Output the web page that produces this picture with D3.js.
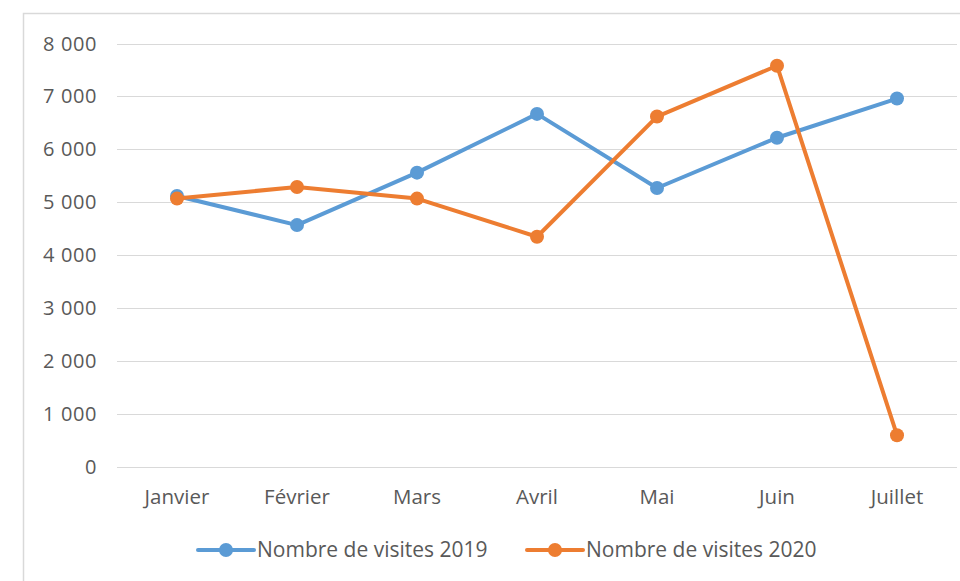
<!DOCTYPE html>
<html>
<head>
<meta charset="utf-8">
<script src="https://cdn.jsdelivr.net/npm/d3@7"></script>
<style>
  body { margin: 0; background: #fff; }
  text { font-family: "Open Sans", Lato, sans-serif; fill: #595959; }
</style>
</head>
<body>
<div id="viz"></div>
<script>
// months and visits
var months = ['Janvier', 'Février', 'Mars', 'Avril', 'Mai', 'Juin', 'Juillet'];
var visits2019 = [5120, 4570, 5560, 6670, 5270, 6220, 6960];
var visits2020 = [5070, 5290, 5070, 4350, 6620, 7580, 600];
var yTicks = [0, 1000, 2000, 3000, 4000, 5000, 6000, 7000, 8000];
var seriesNames = ['Nombre de visites 2019', 'Nombre de visites 2020'];
var seriesColors = ['#5B9BD5', '#ED7D31'];

var width = 960, height = 581;
var margin = ({top: 43.5, right: 3, bottom: 114, left: 117});

var svg = d3.select('#viz')
  .append('svg')
  .attr('width', width)
  .attr('height', height);

// outer chart border (cropped at right/bottom)
svg.append('rect')
  .attr('x', 23.5).attr('y', 13.5)
  .attr('width', 960).attr('height', 600)
  .attr('fill', 'none')
  .attr('stroke', '#d9d9d9')
  .attr('stroke-width', 1.5);

var x = d3.scalePoint()
  .domain(months)
  .range([margin.left, width - margin.right])
  .padding(0.5);

var y = d3.scaleLinear()
  .domain([0, 8000])
  .range([height - margin.bottom, margin.top]);

var fmt = function(d) { return d3.format(',')(d).replace(',', ' '); };

// gridlines
svg.append('g')
  .selectAll('line')
  .data(yTicks)
  .join('line')
  .attr('x1', margin.left)
  .attr('x2', width - margin.right)
  .attr('y1', d => Math.round(y(d)) + 0.5)
  .attr('y2', d => Math.round(y(d)) + 0.5)
  .attr('stroke', '#d9d9d9')
  .attr('stroke-width', 1);

// y labels
svg.append('g')
  .selectAll('text')
  .data(yTicks)
  .join('text')
  .attr('x', 97)
  .attr('y', d => y(d))
  .attr('dy', '0.35em')
  .attr('text-anchor', 'end')
  .style('font-size', '20px')
  .style('letter-spacing', '0.6px')
  .text(fmt);

// x labels
svg.append('g')
  .selectAll('text')
  .data(months)
  .join('text')
  .attr('x', d => x(d))
  .attr('y', 497)
  .attr('dy', '0.35em')
  .attr('text-anchor', 'middle')
  .style('font-size', '20.5px')
  .text(d => d);

var series = [visits2019, visits2020];

var line = d3.line()
  .x((d, i) => x(months[i]))
  .y(d => y(d));

series.forEach(function(vals, s) {
  svg.append('path')
    .datum(vals)
    .attr('d', line)
    .attr('fill', 'none')
    .attr('stroke', seriesColors[s])
    .attr('stroke-width', 4)
    .attr('stroke-linejoin', 'round')
    .attr('stroke-linecap', 'round');

  svg.append('g')
    .selectAll('circle')
    .data(vals)
    .join('circle')
    .attr('cx', (d, i) => x(months[i]))
    .attr('cy', d => y(d))
    .attr('r', 7)
    .attr('fill', seriesColors[s]);
});

// legend
var legendX = [198, 527];
var legendY = 550;
var legend = svg.append('g')
  .selectAll('g')
  .data(seriesNames)
  .join('g')
  .attr('transform', (d, i) => 'translate(' + legendX[i] + ',' + legendY + ')');

legend.append('line')
  .attr('x1', 0).attr('x2', 56)
  .attr('stroke', (d, i) => seriesColors[i])
  .attr('stroke-width', 4)
  .attr('stroke-linecap', 'round');

legend.append('circle')
  .attr('cx', 28)
  .attr('r', 7)
  .attr('fill', (d, i) => seriesColors[i]);

legend.append('text')
  .attr('x', 59)
  .attr('dy', '0.35em')
  .style('font-size', '21px')
  .text(d => d);
</script>
</body>
</html>
